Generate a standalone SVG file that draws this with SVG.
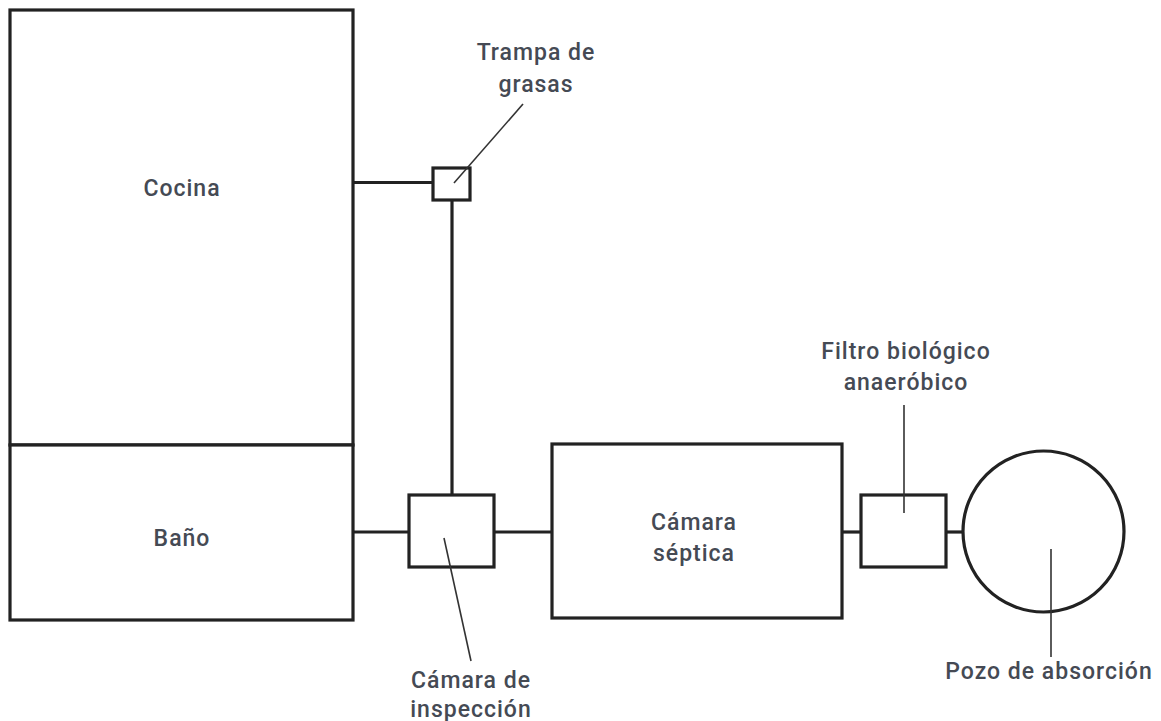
<svg xmlns="http://www.w3.org/2000/svg" width="1161" height="721" viewBox="0 0 1161 721">
  <style>
    .box { fill: #ffffff; stroke: #222222; stroke-width: 3.2; }
    .pipe { fill: none; stroke: #222222; stroke-width: 3.2; }
    .leader { fill: none; stroke: #333333; stroke-width: 1.6; }
    .lbl { font-family: Roboto, "Liberation Sans", sans-serif; font-weight: 500; font-size: 23px; letter-spacing: 1px; fill: #454a54; text-anchor: middle; }
  </style>
  <rect width="1161" height="721" fill="#ffffff"/>

  <g id="connectors">
    <line class="pipe" x1="353" y1="182.5" x2="433" y2="182.5"/>
    <line class="pipe" x1="452" y1="200" x2="452" y2="495"/>
    <line class="pipe" x1="353" y1="532" x2="409" y2="532"/>
    <line class="pipe" x1="494" y1="532" x2="552" y2="532"/>
    <line class="pipe" x1="842" y1="532" x2="861" y2="532"/>
    <line class="pipe" x1="946" y1="532" x2="963" y2="532"/>
  </g>

  <g id="cocina">
    <rect class="box" x="10" y="10" width="343" height="435"/>
    <text class="lbl" x="182" y="196">Cocina</text>
  </g>

  <g id="bano">
    <rect class="box" x="10" y="445" width="343" height="175"/>
    <text class="lbl" x="182" y="546">Baño</text>
  </g>

  <g id="trampa">
    <rect class="box" x="433" y="168" width="37" height="32"/>
    <line class="leader" x1="454" y1="183" x2="523" y2="104"/>
    <text class="lbl" x="536" y="60">Trampa de</text>
    <text class="lbl" x="536" y="92">grasas</text>
  </g>

  <g id="inspeccion">
    <rect class="box" x="409" y="495" width="85" height="72"/>
    <line class="leader" x1="444" y1="538" x2="471" y2="661"/>
    <text class="lbl" x="471" y="688">Cámara de</text>
    <text class="lbl" x="471" y="717">inspección</text>
  </g>

  <g id="septica">
    <rect class="box" x="552" y="444" width="290" height="174"/>
    <text class="lbl" x="694" y="530">Cámara</text>
    <text class="lbl" x="694" y="561">séptica</text>
  </g>

  <g id="filtro">
    <rect class="box" x="861" y="495" width="85" height="72"/>
    <line class="leader" x1="904" y1="405" x2="904" y2="513"/>
    <text class="lbl" x="906" y="359">Filtro biológico</text>
    <text class="lbl" x="906" y="390">anaeróbico</text>
  </g>

  <g id="pozo">
    <circle class="box" cx="1043.5" cy="531.5" r="80.5"/>
    <line class="leader" x1="1051" y1="549" x2="1051" y2="657"/>
    <text class="lbl" x="1049" y="679">Pozo de absorción</text>
  </g>
</svg>
